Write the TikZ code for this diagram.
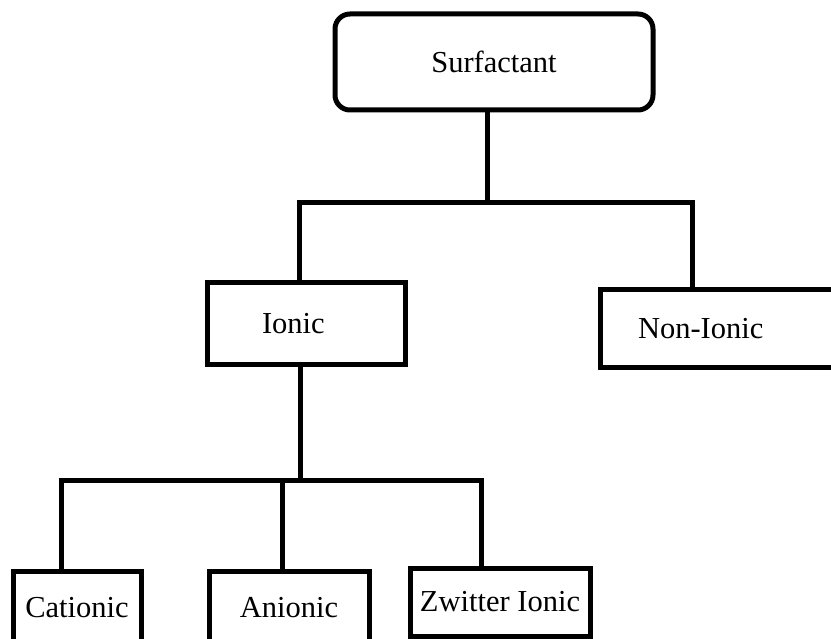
\documentclass[tikz,border=0pt]{standalone}
\usepackage{fontspec}
\setmainfont{Liberation Serif}
\tikzset{
  box/.style={draw, line width=5pt, inner sep=0pt, font=\fontsize{30.5}{36}\selectfont},
  link/.style={line width=5pt}
}
\begin{document}
\begin{tikzpicture}[x=1pt,y=-1pt]
  \useasboundingbox (0,0) rectangle (831,639);
  \node[box, rounded corners=15pt, minimum width=318pt, minimum height=96pt] (surf) at (494,62) {Surfactant};
  \node[box, minimum width=198pt, minimum height=82pt, inner xsep=55pt, text width=88pt, align=left] (ionic) at (306,324) {Ionic};
  \node[box, minimum width=270pt, minimum height=78pt, inner xsep=38pt, text width=194pt, align=left] (nonionic) at (735,329) {Non-Ionic};
  \node[box, minimum width=128pt, minimum height=74pt] (cat) at (77,608) {Cationic};
  \node[box, minimum width=160pt, minimum height=74pt] (an) at (289,608) {Anionic};
  \node[box, minimum width=180pt, minimum height=68pt] (zwit) at (500,602) {Zwitter Ionic};
  % junctions
  \coordinate (jt) at (487,203);
  \coordinate (jl) at (299,203);
  \coordinate (jr) at (692,203);
  \coordinate (ji) at (300,480);
  \coordinate (jc) at (61,480);
  \coordinate (ja) at (282,480);
  \coordinate (jz) at (481,480);
  \begin{scope}[link]
    \draw (surf.south -| jt) -- (jt);
    \draw (ionic.north -| jl) -- (jl) -- (jr) -- (nonionic.north -| jr);
    \draw (ionic.south -| ji) -- (ji);
    \draw (cat.north -| jc) -- (jc) -- (jz) -- (zwit.north -| jz);
    \draw (an.north -| ja) -- (ja);
  \end{scope}
\end{tikzpicture}
\end{document}
